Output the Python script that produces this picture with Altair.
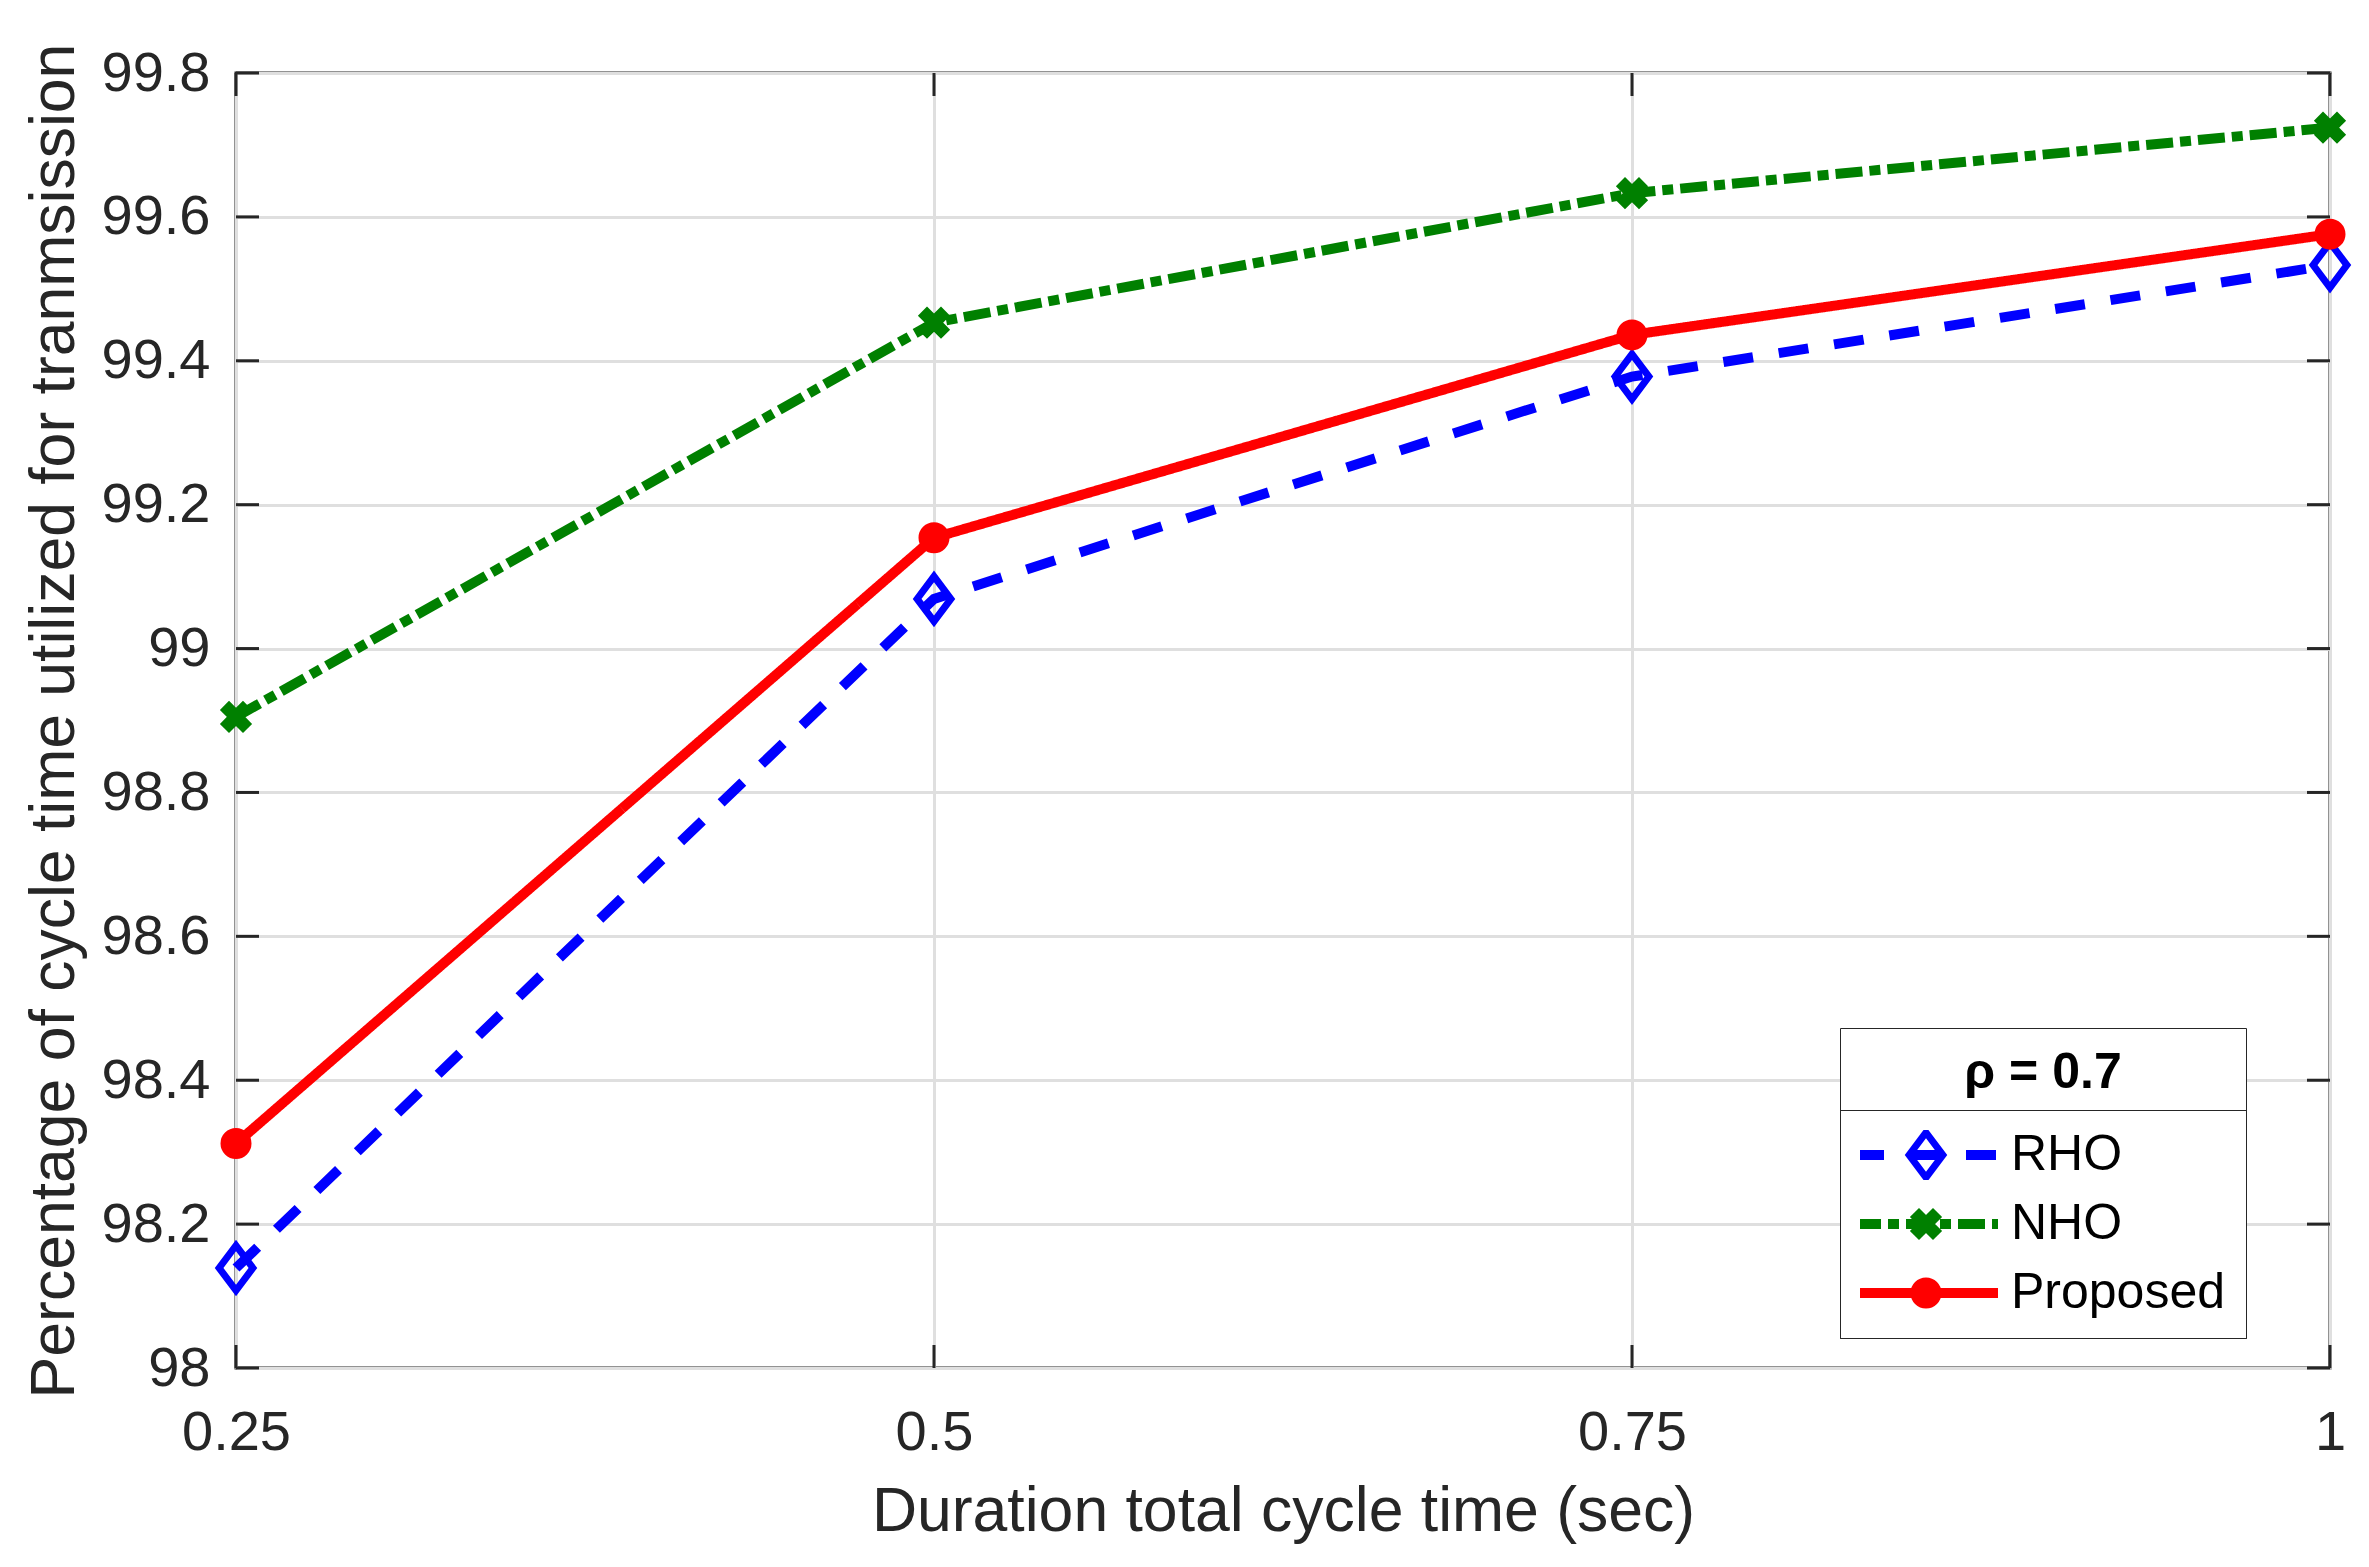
import altair as alt
import pandas as pd

# ---- data ----
x_vals = [0.25, 0.5, 0.75, 1.0]
series_names = ["RHO", "NHO", "Proposed"]
rho = [98.139, 99.069, 99.378, 99.533]
nho = [98.905, 99.453, 99.633, 99.724]
proposed = [98.312, 99.154, 99.436, 99.576]

x_ticks = [0.25, 0.5, 0.75, 1.0]
y_ticks = [98.0, 98.2, 98.4, 98.6, 98.8, 99.0, 99.2, 99.4, 99.6, 99.8]

series_colors = ["#0000ff", "#008000", "#ff0000"]
series_dashes = [[30, 26], [27, 7, 11, 7], [1, 0]]
marker_suffix = " mk"
marker_names = [s + marker_suffix for s in series_names]
marker_shapes = [
    "M0,-1L0.75,0L0,1L-0.75,0Z",
    "M0,-0.5L0.5,-1L1,-0.5L0.5,0L1,0.5L0.5,1L0,0.5L-0.5,1L-1,0.5L-0.5,0L-1,-0.5L-0.5,-1Z",
    "circle",
]
marker_fills = ["transparent", "#008000", "#ff0000"]
marker_sizes = [2025, 784, 784]
marker_strokes = [7, 3, 3]

rows = []
for name, vals in zip(series_names, [rho, nho, proposed]):
    for xv, yv in zip(x_vals, vals):
        rows.append({"x": xv, "y": yv, "series": name, "mk": name + marker_suffix})
df = pd.DataFrame(rows)
ydf = pd.DataFrame({"x": [0.25] * len(y_ticks), "y": y_ticks})
xdf = pd.DataFrame({"x": x_ticks, "y": [98.0] * len(x_ticks)})

W, H = 2094, 1295
FONT = "Liberation Sans"
AX = "#262626"
TL = 23

xscale = alt.Scale(domain=[0.25, 1.0], nice=False, zero=False)
yscale = alt.Scale(domain=[98.0, 99.8], nice=False, zero=False)

x_axis = alt.Axis(values=x_ticks, labelExpr="format(datum.value, '.2~f')", grid=True,
                  gridColor="#dfdfdf", gridWidth=3,
                  ticks=False, domain=False, labelFont=FONT, labelFontSize=56, labelColor=AX,
                  labelPadding=37, labelFlush=False,
                  title="Duration total cycle time (sec)", titleFont=FONT, titleFontSize=62.5,
                  titleFontWeight="normal", titleColor=AX, titleBaseline="alphabetic", titleY=162)
y_axis = alt.Axis(values=y_ticks, labelExpr="format(datum.value, '.1~f')", grid=True,
                  gridColor="#dfdfdf", gridWidth=3,
                  ticks=False, domain=False, labelFont=FONT, labelFontSize=56, labelColor=AX,
                  labelPadding=26,
                  title="Percentage of cycle time utilized for tranmsission", titleFont=FONT,
                  titleFontSize=62.5, titleFontWeight="normal", titleColor=AX,
                  titleAngle=270, titleBaseline="alphabetic", titleAlign="center",
                  titleX=-163, titleY=H / 2)

X = alt.X("x:Q", scale=xscale, axis=x_axis)
Y = alt.Y("y:Q", scale=yscale, axis=y_axis)

LEG_FS = 50

lines = alt.Chart(df).mark_line(strokeWidth=10, strokeCap="butt").encode(
    x=X, y=Y,
    color=alt.Color("series:N", scale=alt.Scale(domain=series_names, range=series_colors),
                    legend=alt.Legend(orient="none", legendX=1604, legendY=955, direction="vertical",
                                      title="ρ = 0.7", titleFont=FONT, titleFontSize=50,
                                      titleFontWeight="bold", titleAnchor="middle", titleColor="#000000",
                                      titlePadding=32, labelFont=FONT, labelFontSize=LEG_FS,
                                      labelLimit=500, labelColor="#000000", labelOffset=8,
                                      symbolType="stroke", symbolSize=20736, symbolStrokeWidth=10,
                                      symbolOffset=-11, strokeColor=AX, fillColor="#ffffff",
                                      padding=20, clipHeight=50, rowPadding=19, zindex=1)),
    strokeDash=alt.StrokeDash("series:N", scale=alt.Scale(domain=series_names, range=series_dashes)),
)

points = alt.Chart(df).mark_point(opacity=1).encode(
    x=X, y=Y,
    stroke=alt.Stroke("mk:N", scale=alt.Scale(domain=marker_names, range=series_colors),
                      legend=alt.Legend(orient="none", legendX=1604, legendY=1037, direction="vertical",
                                        title=None, labelFont=FONT, labelFontSize=LEG_FS,
                                        labelLimit=500, labelExpr="replace(datum.label, ' mk', '')",
                                        labelColor="transparent", labelOffset=59, symbolOffset=40,
                                        strokeColor=AX, padding=20, clipHeight=50, rowPadding=19,
                                        zindex=2)),
    fill=alt.Fill("mk:N", scale=alt.Scale(domain=marker_names, range=marker_fills)),
    shape=alt.Shape("mk:N", scale=alt.Scale(domain=marker_names, range=marker_shapes)),
    size=alt.Size("mk:N", scale=alt.Scale(type="ordinal", domain=marker_names, range=marker_sizes)),
    strokeWidth=alt.StrokeWidth("mk:N", scale=alt.Scale(type="ordinal", domain=marker_names,
                                                        range=marker_strokes)),
)

tick_mark = dict(color=AX, strokeWidth=3)
left_ticks = alt.Chart(ydf).mark_rule(**tick_mark).encode(
    y=Y, x=alt.value(0), x2=alt.value(TL))
right_ticks = alt.Chart(ydf).mark_rule(**tick_mark).encode(
    y=Y, x=alt.value(W - TL), x2=alt.value(W))
bottom_ticks = alt.Chart(xdf).mark_rule(**tick_mark).encode(
    x=X, y=alt.value(H - TL), y2=alt.value(H))
top_ticks = alt.Chart(xdf).mark_rule(**tick_mark).encode(
    x=X, y=alt.value(0), y2=alt.value(TL))

chart = alt.layer(left_ticks, right_ticks, bottom_ticks, top_ticks, lines, points).properties(
    width=W, height=H,
    autosize=alt.AutoSizeParams(type="none"),
    padding={"left": 228, "top": 65, "right": 31, "bottom": 191},
    background="#ffffff",
).configure_view(stroke=AX, strokeWidth=3)

chart.save("out.html", embed_options={"renderer": "svg", "actions": False})
